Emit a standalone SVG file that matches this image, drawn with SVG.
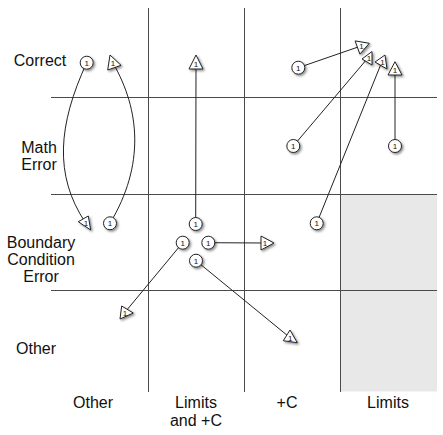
<svg xmlns="http://www.w3.org/2000/svg" width="443" height="435" viewBox="0 0 443 435">
<defs>
<filter id="sh" x="-50%" y="-50%" width="200%" height="200%">
<feDropShadow dx="1.5" dy="1.5" stdDeviation="1" flood-color="#000" flood-opacity="0.45"/>
</filter>
</defs>
<style>
.grid{stroke:#4a4a4a;stroke-width:1;fill:none}
.lbl{font-family:"Liberation Sans",Arial,sans-serif;font-size:16px;fill:#111;text-anchor:middle}
.con{stroke:#222;stroke-width:1;fill:none}
.nd{fill:#fff;stroke:#222;stroke-width:1;filter:url(#sh)}
.n1{font-family:"Liberation Sans",Arial,sans-serif;font-size:8px;fill:#111;text-anchor:middle}
</style>
<rect width="443" height="435" fill="#fff"/>
<rect x="340.5" y="194.5" width="96.5" height="197" fill="#e8e8e8"/>
<g id="grid">
<line class="grid" x1="51" y1="97.5" x2="437" y2="97.5"/>
<line class="grid" x1="51" y1="194.5" x2="437" y2="194.5"/>
<line class="grid" x1="51" y1="290.5" x2="437" y2="290.5"/>
<line class="grid" x1="148.5" y1="8" x2="148.5" y2="392"/>
<line class="grid" x1="244.5" y1="8" x2="244.5" y2="392"/>
<line class="grid" x1="340.5" y1="8" x2="340.5" y2="392"/>
</g>
<g id="labels">
<text class="lbl" x="40" y="66">Correct</text>
<text class="lbl" x="39" y="153">Math</text>
<text class="lbl" x="39" y="170">Error</text>
<text class="lbl" x="41" y="248">Boundary</text>
<text class="lbl" x="41" y="265">Condition</text>
<text class="lbl" x="41" y="282">Error</text>
<text class="lbl" x="36" y="354">Other</text>
<text class="lbl" x="93" y="408">Other</text>
<text class="lbl" x="196" y="408">Limits</text>
<text class="lbl" x="196" y="426">and +C</text>
<text class="lbl" x="287" y="408">+C</text>
<text class="lbl" x="388" y="408">Limits</text>
</g>
<g id="connectors">
<path class="con" d="M86.7,62.7 C58,125 54,175 85,222"/>
<path class="con" d="M110,223.3 C145,165 140,110 113,63"/>
<line class="con" x1="195.7" y1="224" x2="196" y2="64"/>
<line class="con" x1="208.3" y1="242.7" x2="265" y2="243"/>
<line class="con" x1="182.7" y1="242.7" x2="126" y2="311"/>
<line class="con" x1="196" y1="260.7" x2="288" y2="336"/>
<line class="con" x1="298.3" y1="67.7" x2="361" y2="46"/>
<line class="con" x1="293.3" y1="146" x2="367" y2="59"/>
<line class="con" x1="316.7" y1="223.3" x2="381" y2="64"/>
<line class="con" x1="395" y1="146" x2="395" y2="70"/>
</g>
<g id="n-correct-other-c"><circle class="nd" cx="86.7" cy="62.7" r="6.5"/><text class="n1" x="86.7" y="65.5">1</text></g>
<g id="n-correct-other-t"><polygon class="nd" points="110,55 107.7,70 121,65.3"/><text class="n1" x="113" y="66">1</text></g>
<g id="n-bc-other-t"><polygon class="nd" points="78.3,221.7 88.3,216 90.7,230"/><text class="n1" x="86" y="225.5">1</text></g>
<g id="n-bc-other-c"><circle class="nd" cx="110" cy="223.3" r="6.5"/><text class="n1" x="110" y="226.1">1</text></g>
<g id="n-correct-lc-t"><polygon class="nd" points="196,55 189,69 203,69"/><text class="n1" x="196" y="67">1</text></g>
<g id="n-bc-lc-c1"><circle class="nd" cx="195.7" cy="224" r="6.5"/><text class="n1" x="195.7" y="226.8">1</text></g>
<g id="n-bc-lc-c2"><circle class="nd" cx="182.7" cy="242.7" r="6.5"/><text class="n1" x="182.7" y="245.5">1</text></g>
<g id="n-bc-lc-c3"><circle class="nd" cx="208.3" cy="242.7" r="6.5"/><text class="n1" x="208.3" y="245.5">1</text></g>
<g id="n-bc-lc-c4"><circle class="nd" cx="196" cy="260.7" r="6.5"/><text class="n1" x="196" y="263.5">1</text></g>
<g id="n-bc-c-t"><polygon class="nd" points="274,243 261,236 261,250"/><text class="n1" x="265" y="246">1</text></g>
<g id="n-other-other-t"><polygon class="nd" points="121.7,306 120,319 133.3,313"/><text class="n1" x="125" y="315.5">1</text></g>
<g id="n-other-c-t"><polygon class="nd" points="290,330 283.3,340.7 297.3,342.7"/><text class="n1" x="290.2" y="340.6">1</text></g>
<g id="n-correct-c-c"><circle class="nd" cx="298.3" cy="67.7" r="6.5"/><text class="n1" x="298.3" y="70.5">1</text></g>
<g id="n-math-c-c"><circle class="nd" cx="293.3" cy="146" r="6.5"/><text class="n1" x="293.3" y="148.8">1</text></g>
<g id="n-math-l-c"><circle class="nd" cx="395" cy="146" r="6.5"/><text class="n1" x="395" y="148.8">1</text></g>
<g id="n-bc-c-c"><circle class="nd" cx="316.7" cy="223.3" r="6.5"/><text class="n1" x="316.7" y="226.1">1</text></g>
<g id="n-correct-l-t1"><polygon class="nd" points="369.3,43.3 355.1,40.9 359.9,54.1"/><text class="n1" x="361.5" y="49">1</text></g>
<g id="n-correct-l-t2"><polygon class="nd" points="362,59 372,51.5 372,65"/><text class="n1" x="369" y="61">1</text></g>
<g id="n-correct-l-t3"><polygon class="nd" points="375,62 385,55 387,69"/><text class="n1" x="382.5" y="65">1</text></g>
<g id="n-correct-l-t4"><polygon class="nd" points="395,61.7 388,75 402,75"/><text class="n1" x="395" y="73">1</text></g>
</svg>
